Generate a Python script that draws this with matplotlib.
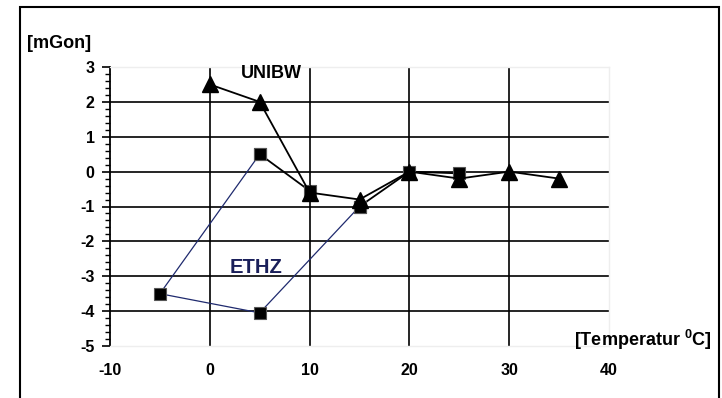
import matplotlib
matplotlib.use("Agg")
import matplotlib.pyplot as plt
from matplotlib.patches import Rectangle
from matplotlib.ticker import MultipleLocator

plt.rcParams['font.family'] = ['Liberation Sans', 'DejaVu Sans']
plt.rcParams['font.weight'] = 'bold'
plt.rcParams['axes.unicode_minus'] = False
plt.rcParams['mathtext.fontset'] = 'custom'
plt.rcParams['mathtext.rm'] = 'Liberation Sans'
plt.rcParams['mathtext.bf'] = 'Liberation Sans:bold'

# UNIBW measurements (triangles)
unibw_temp = [0, 5, 10, 15, 20, 25, 30, 35]
unibw_val = [2.5, 2.0, -0.6, -0.8, 0.0, -0.2, 0.0, -0.2]

# ETHZ measurements (squares), black parts and blue hysteresis part
ethz_black1_temp = [5, 10]
ethz_black1_val = [0.5, -0.55]
ethz_black2_temp = [15, 20, 25]
ethz_black2_val = [-1.0, 0.0, -0.05]
ethz_blue_temp = [5, -5, 5, 15]
ethz_blue_val = [0.5, -3.5, -4.05, -1.0]

xticks = [-10, 0, 10, 20, 30, 40]
yticks = [-5, -4, -3, -2, -1, 0, 1, 2, 3]

BLUE = "#1f2a6e"
NAVY = "#1a1f5a"

fig = plt.figure(figsize=(7.22, 3.98), dpi=100)
fig.patches.append(Rectangle((20/722, -0.1), 699/722, 1.1 - 7/398, transform=fig.transFigure,
                             fill=False, edgecolor="black", linewidth=1.5))
ax = fig.add_axes([110/722, 1 - 346/398, 499/722, 279/398])

ax.set_xlim(-10, 40)
ax.set_ylim(-5, 3)

for t in [0, 10, 20, 30]:
    ax.axvline(t, color="black", linewidth=1.2, zorder=1)
for v in [-4, -3, -2, -1, 0, 1, 2]:
    ax.axhline(v, color="black", linewidth=1.2, zorder=1)

ax.plot(ethz_blue_temp, ethz_blue_val, color=BLUE, linewidth=0.9, zorder=2)
ax.plot(ethz_black1_temp, ethz_black1_val, color="black", linewidth=1.3, zorder=2)
ax.plot(ethz_black2_temp, ethz_black2_val, color="black", linewidth=1.3, zorder=2)
sq_t = ethz_blue_temp + ethz_black1_temp + ethz_black2_temp
sq_v = ethz_blue_val + ethz_black1_val + ethz_black2_val
ax.plot(sq_t, sq_v, linestyle="none", marker="s", markersize=8, color="black",
        markeredgecolor="#555555", markeredgewidth=0.8, zorder=3)
ax.plot(unibw_temp, unibw_val, color="black", linewidth=1.3, marker="^", markersize=11.5,
        zorder=4)

ax.text(6.2, 2.8, "UNIBW", fontsize=13, fontweight="bold", ha="center", va="center")
ax.text(4.6, -2.76, "ETHZ", fontsize=14.5, fontweight="bold", color=NAVY, ha="center", va="center")

ax.set_xticks(xticks)
ax.set_yticks(yticks)
ax.yaxis.set_minor_locator(MultipleLocator(0.2))
ax.tick_params(axis="x", length=0, pad=12, labelsize=11.5)
ax.tick_params(axis="y", which="major", length=6, width=1.2, pad=5, labelsize=11.5)
ax.tick_params(axis="y", which="minor", length=3.5, width=1.0)
for lab in ax.get_xticklabels() + ax.get_yticklabels():
    lab.set_fontweight("bold")

ax.spines["left"].set_linewidth(1.3)
for s in ["top", "right", "bottom"]:
    ax.spines[s].set_color("#eeeeee")
    ax.spines[s].set_linewidth(1.0)

fig.text(27/722, 1 - 44/398, "[mGon]", fontsize=13, fontweight="bold", ha="left", va="center")
fig.text(712/722, 1 - 340/398, r"[Temperatur $^{\mathbf{0}}$C]", fontsize=13, fontweight="bold",
         ha="right", va="center")

fig.savefig("out.png", dpi=100)
